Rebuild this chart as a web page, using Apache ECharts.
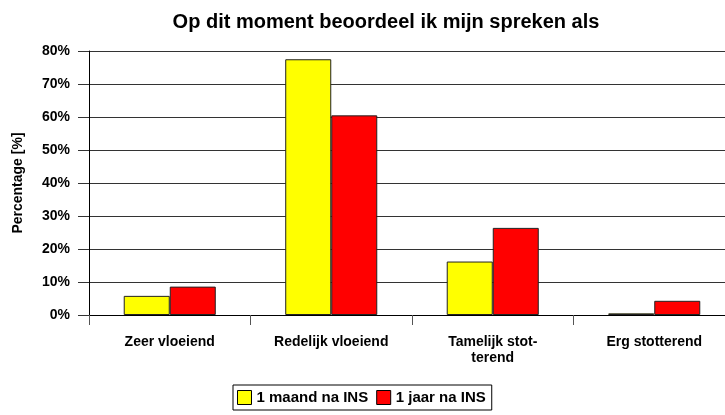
<!DOCTYPE html>
<html>
<head>
<meta charset="utf-8">
<script src="https://cdn.jsdelivr.net/npm/echarts@6/dist/echarts.min.js"></script>
<style>
    html, body { margin: 0; padding: 0; background: #fff; overflow: hidden; }
    /* the plot runs past the right edge of the window, like the cropped original */
    #chart { width: 740px; height: 415px; }
</style>
</head>
<body>
<div id="chart"></div>
<script>
var categories = ['Zeer vloeiend', 'Redelijk vloeiend', 'Tamelijk stot-\nterend', 'Erg stotterend'];
var seriesNames = ['1 maand na INS', '1 jaar na INS'];
var maandValues = [5.8, 77.5, 16.2, 0.5];
var jaarValues = [8.6, 60.5, 26.4, 4.3];
var yTicks = [0, 10, 20, 30, 40, 50, 60, 70, 80];

var fontFam = '"Liberation Sans", Arial, sans-serif';

function barSeries(name, color, data) {
    return {
        name : name,
        type : 'bar',
        barGap : '0%',
        barCategoryGap : '43%',
        itemStyle : {
            color : color,
            borderColor : '#222',
            borderWidth : 1
        },
        data : data
    };
}

var chart = echarts.init(document.getElementById('chart'));
var option = {
    animation : false,
    title : {
        text : 'Op dit moment beoordeel ik mijn spreken als',
        left : 381,
        textAlign : 'center',
        top : 7,
        textStyle : {
            fontFamily : fontFam,
            fontSize : 20,
            fontWeight : 'bold',
            color : '#000'
        }
    },
    legend : {
        data : seriesNames,
        left : 233,
        top : 385,
        orient : 'horizontal',
        borderColor : '#000',
        borderWidth : 1,
        padding : [5, 6, 5, 4],
        itemGap : 8,
        itemWidth : 14,
        itemHeight : 14,
        icon : 'rect',
        itemStyle : {
            borderColor : '#000',
            borderWidth : 1
        },
        textStyle : {
            fontFamily : fontFam,
            fontSize : 15,
            fontWeight : 'bold',
            color : '#000'
        }
    },
    grid : {
        left : 89,
        top : 51,
        width : 646,
        height : 264,
        containLabel : false
    },
    xAxis : [ {
        type : 'category',
        data : categories,
        axisLine : { lineStyle : { color : '#000', width : 1 } },
        axisTick : { show : true, length : 10, alignWithLabel : false, lineStyle : { color : '#555' } },
        axisLabel : {
            margin : 19,
            fontFamily : fontFam,
            fontSize : 14,
            fontWeight : 'bold',
            color : '#000',
            lineHeight : 16
        },
        splitLine : { show : false }
    } ],
    yAxis : [ {
        type : 'value',
        min : yTicks[0],
        max : yTicks[yTicks.length - 1],
        interval : 10,
        name : 'Percentage [%]',
        nameLocation : 'middle',
        nameGap : 64,
        nameRotate : 90,
        nameTextStyle : {
            fontFamily : fontFam,
            fontSize : 14,
            fontWeight : 'bold',
            color : '#000'
        },
        axisLine : { show : true, lineStyle : { color : '#000', width : 1 } },
        axisTick : { show : true, length : 11, lineStyle : { color : '#333' } },
        axisLabel : {
            margin : 19,
            formatter : '{value}%',
            fontFamily : fontFam,
            fontSize : 14,
            fontWeight : 'bold',
            color : '#000'
        },
        splitLine : { show : true, lineStyle : { color : '#333', width : 1 } }
    } ],
    series : [
        barSeries(seriesNames[0], '#ffff00', maandValues),
        barSeries(seriesNames[1], '#ff0000', jaarValues)
    ]
};
chart.setOption(option);
</script>
</body>
</html>
